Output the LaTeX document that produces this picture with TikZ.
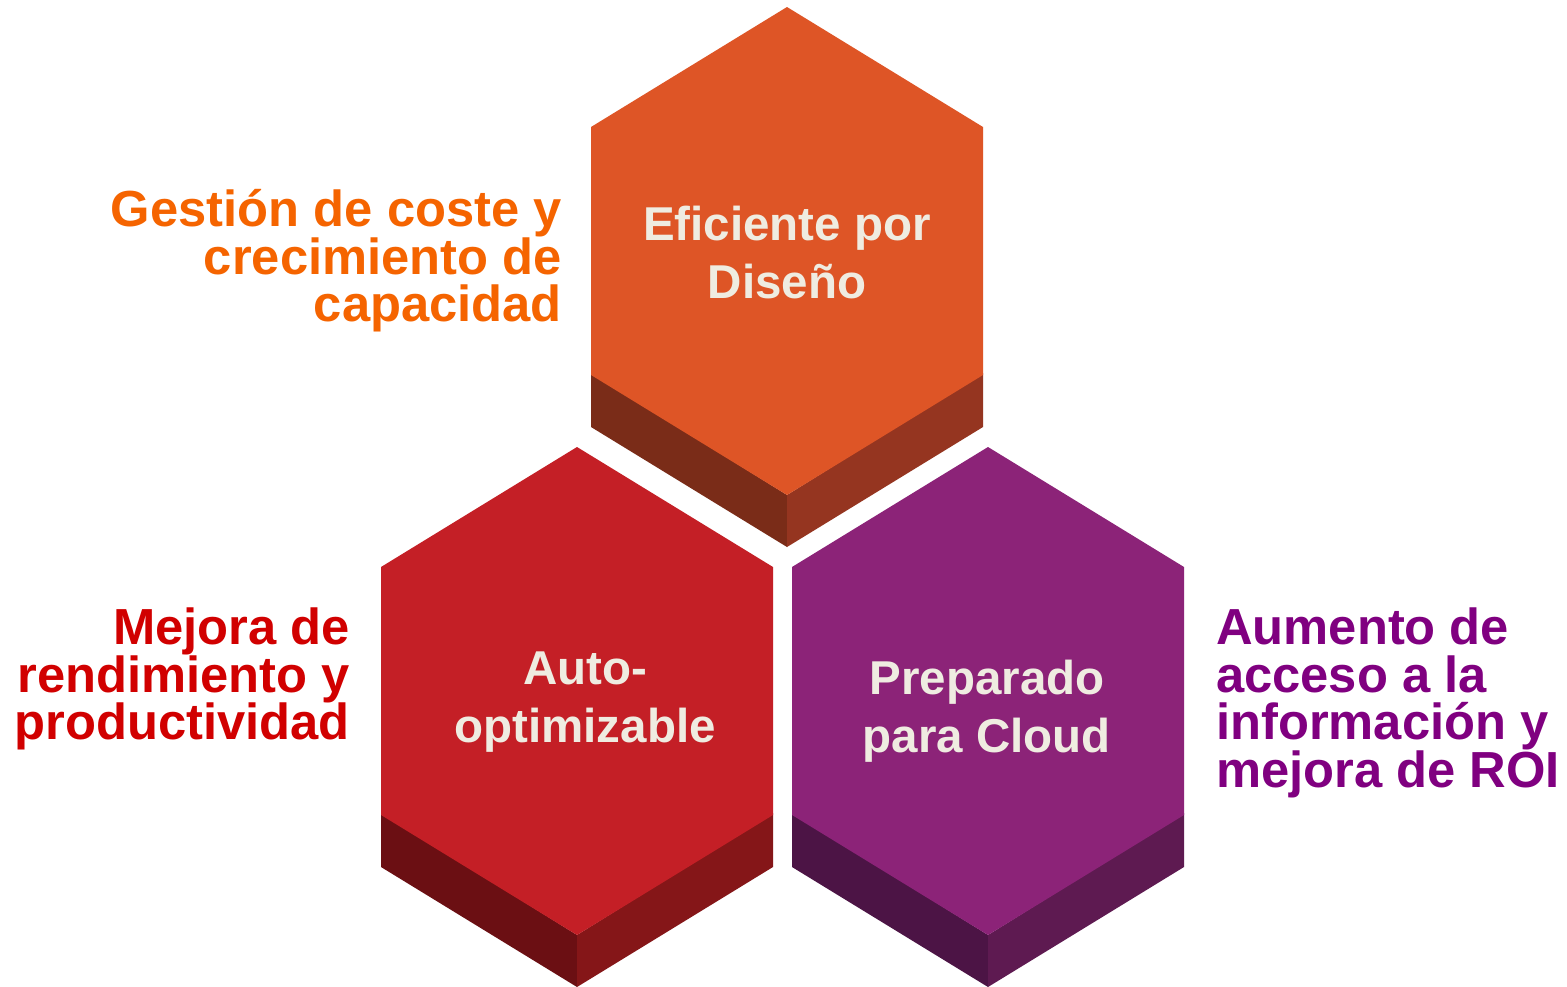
\documentclass[tikz,border=0pt]{standalone}
\usepackage{fontspec}
\setmainfont{Liberation Sans}
\definecolor{topface}{HTML}{DE5526}
\definecolor{topleft}{HTML}{7A2C18}
\definecolor{topright}{HTML}{953520}
\definecolor{redface}{HTML}{C41F26}
\definecolor{redleft}{HTML}{6B0F13}
\definecolor{redright}{HTML}{851618}
\definecolor{purface}{HTML}{8C2378}
\definecolor{purleft}{HTML}{4C1445}
\definecolor{purright}{HTML}{5E1A51}
\definecolor{hexcream}{HTML}{EFECE1}
\definecolor{orangeT}{HTML}{F56400}
\definecolor{redT}{HTML}{D10000}
\definecolor{purT}{HTML}{800080}
\newcommand{\hexblock}[5]{%
  \fill[#4] (#1-196,#2+366) -- (#1,#2+488) -- (#1,#2+540) -- (#1-196,#2+420) -- cycle;
  \fill[#5] (#1,#2+488) -- (#1+196,#2+366) -- (#1+196,#2+420) -- (#1,#2+540) -- cycle;
  \fill[#3] (#1,#2) -- (#1+196,#2+120) -- (#1+196,#2+368) -- (#1,#2+488) -- (#1-196,#2+368) -- (#1-196,#2+120) -- cycle;
}
\tikzset{
  hextext/.style={font=\fontsize{47.5}{58}\selectfont\bfseries, text=hexcream, align=center, inner sep=0pt},
  sidetext/.style={font=\fontsize{50.7}{47.5}\selectfont\bfseries, inner sep=0pt}
}
\begin{document}
\begin{tikzpicture}[x=1pt,y=-1pt]
\fill[white] (0,0) rectangle (1567,986);
\useasboundingbox (0,0) rectangle (1567,986);
\hexblock{787}{7}{topface}{topleft}{topright}
\hexblock{577}{447}{redface}{redleft}{redright}
\hexblock{988}{447}{purface}{purleft}{purright}
\node[hextext] (t1) at (787,253) {Eficiente por\\Diseño};
\node[hextext] (t2) at (585,702) {Auto-\\optimizable};
\node[hextext] (t3) at (987,711) {Preparado\\para Cloud};
\node[sidetext, text=orangeT, anchor=east, align=right] (s1) at (562,261) {Gestión de coste y\\crecimiento de\\capacidad};
\node[sidetext, text=redT, anchor=east, align=right] (s2) at (350,679) {Mejora de\\rendimiento y\\productividad};
\node[sidetext, text=purT, anchor=west, align=left] (s3) at (1216,703) {Aumento de\\acceso a la\\información y\\mejora de ROI};
\end{tikzpicture}
\end{document}
